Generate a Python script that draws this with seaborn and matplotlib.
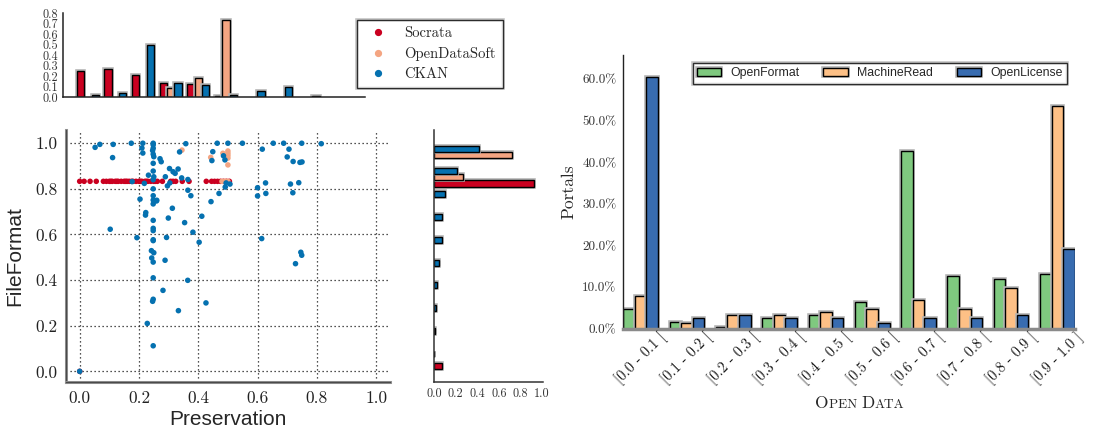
import numpy as np
import pandas as pd
import matplotlib
matplotlib.use("Agg")
import matplotlib.pyplot as plt
import matplotlib.patheffects as pe
from matplotlib.lines import Line2D
from matplotlib.patches import Patch
from matplotlib.offsetbox import TextArea, HPacker, AnchoredOffsetbox
from matplotlib.ticker import FormatStrFormatter
from matplotlib.transforms import ScaledTranslation
import seaborn as sns

# ---------------- data ----------------
portals = ["Socrata", "OpenDataSoft", "CKAN"]
portal_colors = ["#ca0020", "#f4a582", "#0571b0"]

socrata_preservation = [0.0, 0.015, 0.035, 0.056, 0.08, 0.09, 0.1, 0.105, 0.11, 0.12,
                        0.125, 0.13, 0.14, 0.15, 0.155, 0.16, 0.167, 0.175, 0.18, 0.19,
                        0.2, 0.205, 0.21, 0.22, 0.225, 0.23, 0.24, 0.25, 0.255, 0.262,
                        0.279, 0.307, 0.315, 0.324, 0.346, 0.369, 0.427, 0.445, 0.455,
                        0.465, 0.475, 0.485, 0.495, 0.505, 0.0]
socrata_fileformat = [0.833, 0.833, 0.833, 0.833, 0.833, 0.833, 0.833, 0.833, 0.833, 0.833,
                      0.833, 0.833, 0.833, 0.833, 0.833, 0.833, 0.833, 0.833, 0.833, 0.833,
                      0.833, 0.833, 0.833, 0.833, 0.833, 0.833, 0.833, 0.833, 0.833, 0.833,
                      0.833, 0.833, 0.833, 0.833, 0.833, 0.833, 0.833, 0.833, 0.833,
                      0.833, 0.833, 0.833, 0.833, 0.833, 0.0]

ods_preservation = [0.345, 0.442, 0.483, 0.5, 0.5, 0.5, 0.5, 0.5, 0.5, 0.49, 0.48]
ods_fileformat = [0.970, 0.938, 0.956, 0.966, 0.956, 0.946, 0.935, 0.905, 0.833, 0.833, 0.833]

ckan_preservation = [
    0.174, 0.213, 0.248, 0.358, 0.464, 0.500, 0.549, 0.653, 0.688, 0.749, 0.815,
    0.052, 0.068, 0.113, 0.111, 0.210, 0.213,
    0.248, 0.248, 0.246, 0.248, 0.250, 0.248, 0.248, 0.250, 0.248, 0.248,
    0.232, 0.271, 0.275, 0.303, 0.315, 0.322, 0.332, 0.289, 0.337, 0.344,
    0.177, 0.218, 0.296, 0.304, 0.365, 0.365, 0.375, 0.248, 0.260,
    0.449, 0.446, 0.485, 0.490, 0.494, 0.491, 0.507, 0.470, 0.443,
    0.616, 0.706, 0.700, 0.720, 0.743, 0.750, 0.600, 0.600, 0.627, 0.628, 0.711, 0.739, 0.719,
    0.2035, 0.248, 0.259, 0.248, 0.3126, 0.223, 0.222, 0.299, 0.248, 0.354, 0.412,
    0.103, 0.248, 0.248, 0.382, 0.193, 0.293, 0.248, 0.248, 0.403, 0.614,
    0.242, 0.250, 0.243, 0.248, 0.288, 0.746, 0.749, 0.728,
    0.248, 0.3645, 0.281, 0.248, 0.246, 0.426, 0.333, 0.228, 0.248, 0.0]
ckan_fileformat = [
    1.0, 1.0, 1.0, 0.998, 1.0, 1.0, 1.0, 1.0, 1.0, 1.0, 0.998,
    0.982, 0.995, 0.995, 0.937, 0.979, 0.957,
    0.993, 0.978, 0.968, 0.952, 0.941, 0.912, 0.878, 0.853, 0.840, 0.800,
    0.860, 0.932, 0.919, 0.889, 0.875, 0.868, 0.887, 0.853, 0.962, 0.848,
    0.832, 0.824, 0.813, 0.826, 0.841, 0.794, 0.770, 0.770, 0.750,
    0.963, 0.924, 0.945, 0.927, 0.826, 0.808, 0.821, 0.780, 0.744,
    0.974, 0.974, 0.940, 0.920, 0.916, 0.918, 0.805, 0.769, 0.826, 0.780, 0.821, 0.827, 0.783,
    0.755, 0.751, 0.747, 0.734, 0.715, 0.696, 0.685, 0.672, 0.662, 0.652, 0.680,
    0.623, 0.627, 0.617, 0.610, 0.586, 0.587, 0.577, 0.573, 0.566, 0.582,
    0.529, 0.520, 0.497, 0.479, 0.487, 0.522, 0.509, 0.472,
    0.410, 0.399, 0.355, 0.316, 0.307, 0.300, 0.266, 0.210, 0.112, 0.0]

# share of portals per 0.1-wide bin (left edges below)
bin_left = [0.0, 0.1, 0.2, 0.3, 0.4, 0.5, 0.6, 0.7, 0.8, 0.9]
preservation_share = {
    "Socrata":      [0.253, 0.272, 0.208, 0.141, 0.125, 0.013, 0.0, 0.0, 0.0, 0.0],
    "OpenDataSoft": [0.0, 0.0, 0.0, 0.093, 0.182, 0.733, 0.0, 0.0, 0.0, 0.0],
    "CKAN":         [0.022, 0.045, 0.496, 0.134, 0.118, 0.022, 0.061, 0.102, 0.010, 0.0],
}
fileformat_share = {
    "Socrata":      [0.071, 0.0, 0.0, 0.0, 0.0, 0.0, 0.0, 0.0, 0.926, 0.0],
    "OpenDataSoft": [0.0, 0.0, 0.0, 0.0, 0.0, 0.0, 0.0, 0.0, 0.270, 0.725],
    "CKAN":         [0.004, 0.005, 0.018, 0.028, 0.050, 0.074, 0.074, 0.100, 0.216, 0.417],
}

open_data_bins = ["[0.0 - 0.1 [", "[0.1 - 0.2 [", "[0.2 - 0.3 [", "[0.3 - 0.4 [",
                  "[0.4 - 0.5 [", "[0.5 - 0.6 [", "[0.6 - 0.7 [", "[0.7 - 0.8 [",
                  "[0.8 - 0.9 [", "[0.9 - 1.0 ]"]
measures = ["OpenFormat", "MachineRead", "OpenLicense"]
measure_colors = ["#7fc97f", "#fdc086", "#386cb0"]
open_format_pct = [4.8, 1.6, 0.4, 2.5, 3.25, 6.5, 42.8, 12.6, 11.9, 13.1]
machine_read_pct = [7.8, 1.3, 3.25, 3.25, 4.0, 4.8, 6.9, 4.8, 9.8, 53.5]
open_license_pct = [60.6, 2.5, 3.25, 2.5, 2.5, 1.3, 2.5, 2.5, 3.25, 19.2]

# ---------------- style ----------------
sns.set_style("white")
plt.rcParams["font.family"] = ["cmr10", "DejaVu Serif"]
plt.rcParams["axes.formatter.use_mathtext"] = True
plt.rcParams["mathtext.fontset"] = "cm"
SANS = "Liberation Sans"

rim = [pe.Stroke(linewidth=2.6, foreground="#b4b4b4"), pe.Normal()]
spine_rim = [pe.Stroke(linewidth=2.2, foreground="#9a9a9a"), pe.Normal()]

fig = plt.figure(figsize=(11.05, 4.37), dpi=100)
ax_top = fig.add_axes([0.0570, 0.7773, 0.2733, 0.1922])
ax_sc = fig.add_axes([0.0595, 0.1252, 0.2935, 0.5773])
ax_rh = fig.add_axes([0.3928, 0.1252, 0.0986, 0.5773])
ax_bar = fig.add_axes([0.5641, 0.2478, 0.4085, 0.6263])

bw = 0.1
bar_w = bw * 0.8 / 3

# ---- scatter ----
scatter_df = pd.concat([
    pd.DataFrame({"Preservation": socrata_preservation, "FileFormat": socrata_fileformat, "portal": "Socrata"}),
    pd.DataFrame({"Preservation": ods_preservation, "FileFormat": ods_fileformat, "portal": "OpenDataSoft"}),
    pd.DataFrame({"Preservation": ckan_preservation, "FileFormat": ckan_fileformat, "portal": "CKAN"}),
], ignore_index=True)
sns.scatterplot(data=scatter_df, x="Preservation", y="FileFormat", hue="portal",
                hue_order=portals, palette=dict(zip(portals, portal_colors)),
                s=16, linewidth=0, legend=False, ax=ax_sc, zorder=3)
ax_sc.set_xlim(-0.047, 1.047)
ax_sc.set_ylim(-0.048, 1.058)
ticks = [0.0, 0.2, 0.4, 0.6, 0.8, 1.0]
ax_sc.set_xticks(ticks)
ax_sc.set_yticks(ticks)
ax_sc.xaxis.set_major_formatter(FormatStrFormatter("%.1f"))
ax_sc.yaxis.set_major_formatter(FormatStrFormatter("%.1f"))
ax_sc.grid(True, color="#1a1a1a", linestyle=(0, (1, 2.2)), linewidth=0.9)
ax_sc.tick_params(direction="in", length=4, width=1, labelsize=12.5, pad=6, color="#333333",
                  labelcolor="#222222")
ax_sc.set_xlabel("Preservation", fontsize=15, family=SANS, labelpad=3)
ax_sc.set_ylabel("FileFormat", fontsize=15, family=SANS, labelpad=8)
for side in ["top", "right"]:
    ax_sc.spines[side].set_visible(False)
for side in ["left", "bottom"]:
    ax_sc.spines[side].set_color("#4a4a4a")
    ax_sc.spines[side].set_linewidth(1.0)
    ax_sc.spines[side].set_path_effects(spine_rim)

# ---- top marginal: Preservation ----
for k, (name, color) in enumerate(zip(portals, portal_colors)):
    share = np.array(preservation_share[name])
    lefts = np.array(bin_left) + bw * 0.1 + k * bar_w
    keep = share > 0
    bars = ax_top.bar(lefts[keep], share[keep], width=bar_w, align="edge",
                      color=color, edgecolor="k", linewidth=1, zorder=2)
    for b in bars:
        b.set_path_effects(rim)
ax_top.set_xlim(-0.04, 1.054)
ax_top.set_ylim(0, 0.8)
ax_top.set_xticks(ticks)
ax_top.set_xticklabels([])
ax_top.set_yticks([0.0, 0.1, 0.2, 0.3, 0.4, 0.5, 0.6, 0.7, 0.8])
ax_top.yaxis.set_major_formatter(FormatStrFormatter("%.1f"))
ax_top.tick_params(axis="x", direction="in", length=3, width=1, color="#333333")
ax_top.tick_params(axis="y", direction="out", length=2.5, width=1, labelsize=8.8, pad=1,
                   labelcolor="#333333")
for side in ["top", "right"]:
    ax_top.spines[side].set_visible(False)
for side in ["left", "bottom"]:
    ax_top.spines[side].set_color("#222222")
    ax_top.spines[side].set_linewidth(1.1)

# ---- right marginal: FileFormat ----
for k, (name, color) in enumerate(zip(portals, portal_colors)):
    share = np.array(fileformat_share[name])
    bottoms = np.array(bin_left) + bw * 0.1 + k * bar_w
    keep = share > 0
    bars = ax_rh.barh(bottoms[keep], share[keep], height=bar_w, align="edge",
                      color=color, edgecolor="k", linewidth=1, zorder=2)
    for b in bars:
        b.set_path_effects(rim)
ax_rh.set_ylim(-0.048, 1.058)
ax_rh.set_xlim(0, 1.01)
ax_rh.set_xticks(ticks)
ax_rh.xaxis.set_major_formatter(FormatStrFormatter("%.1f"))
ax_rh.set_yticks(ticks)
ax_rh.set_yticklabels([])
ax_rh.tick_params(axis="x", direction="in", length=2, labelsize=8.8, pad=4, labelcolor="#333333")
ax_rh.tick_params(axis="y", direction="in", length=3, width=1)
for side in ["top", "right"]:
    ax_rh.spines[side].set_visible(False)
for side in ["left", "bottom"]:
    ax_rh.spines[side].set_color("#333333")
    ax_rh.spines[side].set_linewidth(1.1)

# ---- portal legend ----
handles = [Line2D([], [], marker="o", linestyle="", color=c, markersize=4.2) for c in portal_colors]
leg = fig.legend(handles, portals, loc="upper left", bbox_to_anchor=(357 / 1105, 1 - 20 / 437),
                 borderaxespad=0, frameon=True, fancybox=False, fontsize=10.5,
                 labelspacing=0.45, handletextpad=0.8, borderpad=0.45)
leg.get_frame().set_edgecolor("k")
leg.get_frame().set_linewidth(1)
leg.get_frame().set_path_effects(rim)

# ---- grouped bar chart ----
bar_df = pd.DataFrame({
    "bin": open_data_bins * 3,
    "measure": [m for m in measures for _ in open_data_bins],
    "pct": open_format_pct + machine_read_pct + open_license_pct,
})
sns.barplot(data=bar_df, x="bin", y="pct", hue="measure", order=open_data_bins,
            hue_order=measures, palette=dict(zip(measures, measure_colors)),
            saturation=1, width=0.75, errorbar=None, edgecolor="k", linewidth=1,
            legend=False, ax=ax_bar, zorder=2)
for p in ax_bar.patches:
    p.set_path_effects(rim)
ax_bar.set_axisbelow(False)
ax_bar.set_xlim(-0.375, 9.375)
ax_bar.set_ylim(0, 65.8)
ax_bar.set_yticks([0, 10, 20, 30, 40, 50, 60])
ax_bar.yaxis.set_major_formatter(FormatStrFormatter("%.1f%%"))
ax_bar.set_xticks(range(len(open_data_bins)))
ax_bar.set_xticklabels(open_data_bins, rotation=45, ha="center", fontsize=10.5, color="#1a1a1a")
shift = ScaledTranslation(15 / 100, 0, fig.dpi_scale_trans)
for lab in ax_bar.get_xticklabels():
    lab.set_transform(lab.get_transform() + shift)
ax_bar.tick_params(axis="x", direction="in", length=3, width=1, pad=1, color="#222222")
ax_bar.tick_params(axis="y", direction="out", length=3, width=1, labelsize=9.5, pad=2,
                   labelcolor="#333333")
ax_bar.set_ylabel("Portals", fontsize=12.5, labelpad=4)
ax_bar.set_xlabel("")
for side in ["top", "right"]:
    ax_bar.spines[side].set_visible(False)
ax_bar.spines["left"].set_color("#222222")
ax_bar.spines["left"].set_linewidth(1)
ax_bar.spines["bottom"].set_color("#8a8a8a")
ax_bar.spines["bottom"].set_linewidth(2.5)

# small-caps axis title
big = dict(family="cmr10", size=12.5)
small = dict(family="cmr10", size=9.6)
title_box = HPacker(children=[TextArea("O", textprops=big), TextArea("PEN ", textprops=small),
                              TextArea("D", textprops=big), TextArea("ATA", textprops=small)],
                    align="baseline", pad=0, sep=0)
anchored = AnchoredOffsetbox(loc="center", child=title_box, pad=0, borderpad=0, frameon=False,
                             bbox_to_anchor=(860 / 1105, 1 - 403 / 437),
                             bbox_transform=fig.transFigure)
fig.add_artist(anchored)

mhandles = [Patch(facecolor=c, edgecolor="k", linewidth=1) for c in measure_colors]
leg2 = ax_bar.legend(mhandles, measures, loc="upper right", ncol=3,
                     bbox_to_anchor=(1067 / 1105, 1 - 63 / 437), bbox_transform=fig.transFigure,
                     borderaxespad=0, frameon=True, fancybox=False,
                     prop=dict(family=SANS, size=8.8), handlelength=2.0, handleheight=0.7,
                     handletextpad=0.75, columnspacing=1.95, borderpad=0.35)
leg2.get_frame().set_edgecolor("k")
leg2.get_frame().set_linewidth(1)
leg2.get_frame().set_path_effects(rim)
for h in leg2.legend_handles:
    h.set_path_effects(rim)

fig.savefig("out.png", dpi=100)
